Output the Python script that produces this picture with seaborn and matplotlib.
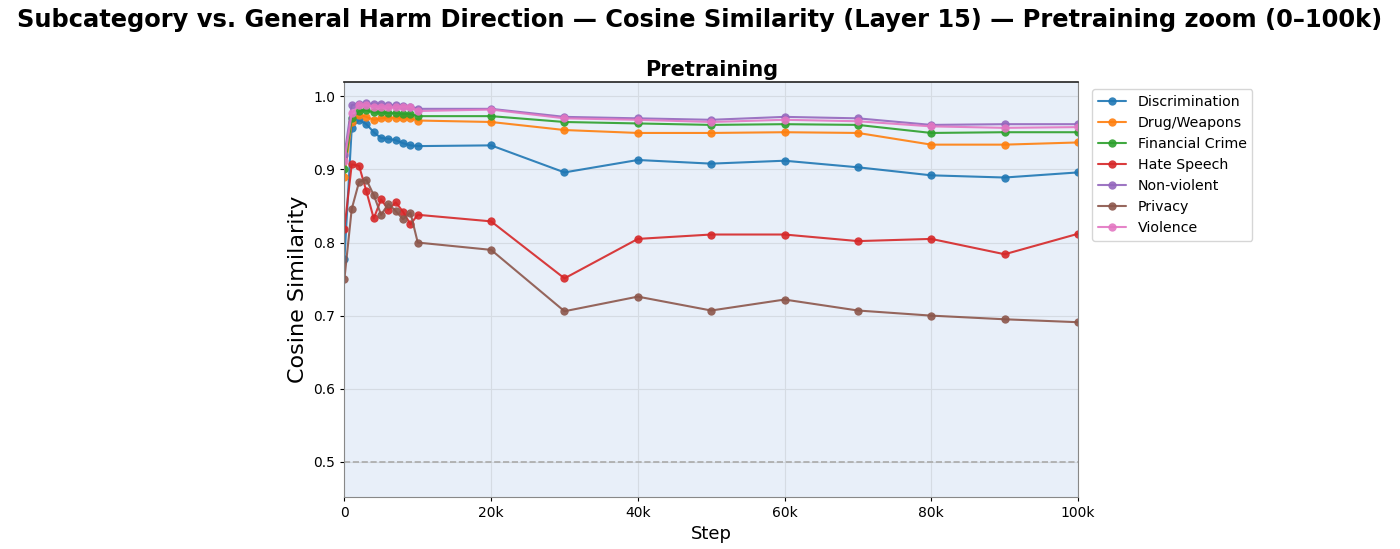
import numpy as np
import pandas as pd
import matplotlib
matplotlib.use("Agg")
import matplotlib.pyplot as plt
import seaborn as sns
from matplotlib.ticker import FuncFormatter

steps = [0, 1000, 2000, 3000, 4000, 5000, 6000, 7000, 8000, 9000, 10000,
         20000, 30000, 40000, 50000, 60000, 70000, 80000, 90000, 100000]

discrimination = [0.777, 0.957, 0.968, 0.962, 0.951, 0.943, 0.942, 0.940, 0.936, 0.933, 0.932,
                  0.933, 0.896, 0.913, 0.908, 0.912, 0.903, 0.892, 0.889, 0.896]
drug_weapons = [0.89, 0.965, 0.975, 0.972, 0.968, 0.970, 0.971, 0.971, 0.970, 0.970, 0.967,
                0.965, 0.954, 0.950, 0.950, 0.951, 0.950, 0.934, 0.934, 0.937]
financial_crime = [0.901, 0.970, 0.980, 0.981, 0.978, 0.978, 0.977, 0.977, 0.976, 0.976, 0.973,
                   0.973, 0.965, 0.963, 0.961, 0.962, 0.961, 0.950, 0.951, 0.951]
hate_speech = [0.819, 0.907, 0.905, 0.870, 0.833, 0.859, 0.845, 0.855, 0.842, 0.825, 0.838,
               0.829, 0.751, 0.805, 0.811, 0.811, 0.802, 0.805, 0.784, 0.812]
non_violent = [0.92, 0.988, 0.990, 0.991, 0.989, 0.989, 0.988, 0.988, 0.987, 0.986, 0.983,
               0.983, 0.972, 0.970, 0.968, 0.972, 0.970, 0.961, 0.962, 0.962]
privacy = [0.750, 0.846, 0.883, 0.886, 0.865, 0.838, 0.853, 0.843, 0.832, 0.841, 0.800,
           0.790, 0.706, 0.726, 0.707, 0.722, 0.707, 0.700, 0.695, 0.691]
violence = [0.911, 0.977, 0.988, 0.988, 0.986, 0.985, 0.985, 0.985, 0.986, 0.986, 0.980,
            0.982, 0.970, 0.968, 0.965, 0.968, 0.966, 0.959, 0.957, 0.958]

categories = ["Discrimination", "Drug/Weapons", "Financial Crime", "Hate Speech",
              "Non-violent", "Privacy", "Violence"]
series = [discrimination, drug_weapons, financial_crime, hate_speech,
          non_violent, privacy, violence]

rows = []
for cat, vals in zip(categories, series):
    for s, v in zip(steps, vals):
        rows.append({"step": s, "cos": v, "category": cat})
df = pd.DataFrame(rows)

sns.set_style("whitegrid")
plt.rcParams["font.family"] = ["DejaVu Sans"]
plt.rcParams["text.color"] = "black"
plt.rcParams["axes.labelcolor"] = "black"
plt.rcParams["xtick.color"] = "black"
plt.rcParams["ytick.color"] = "black"

fig = plt.figure(figsize=(14, 5.49), dpi=100)
ax = fig.add_axes([0.246, 0.095, 0.524, 0.756])
ax.set_facecolor("#e8eff9")

sns.lineplot(data=df, x="step", y="cos", hue="category", hue_order=categories,
             palette="tab10", marker="o", markersize=6, markeredgewidth=0,
             linewidth=1.5, alpha=0.9, ax=ax)

ax.axhline(0.5, color="#aaaaaa", linestyle="--", linewidth=1.2)

ax.set_xlim(0, 100000)
ax.set_ylim(0.452, 1.02)
ax.set_xticks([0, 20000, 40000, 60000, 80000, 100000])
ax.xaxis.set_major_formatter(FuncFormatter(lambda v, p: "0" if v == 0 else f"{int(v/1000)}k"))
ax.set_yticks([0.5, 0.6, 0.7, 0.8, 0.9, 1.0])
ax.tick_params(axis="both", labelsize=10, length=3, left=True, bottom=True)
ax.grid(True, color="#d5dbe3", linewidth=0.8)

for side in ["left", "right", "bottom"]:
    ax.spines[side].set_color("#888888")
ax.spines["top"].set_color("#222222")
ax.spines["top"].set_linewidth(1.2)

ax.set_xlabel("Step", fontsize=13)
ax.set_ylabel("Cosine Similarity", fontsize=16)
ax.set_title("Pretraining", fontsize=15, fontweight="bold", pad=4)

ax.legend(loc="upper left", bbox_to_anchor=(1.01, 1.0), fontsize=10.2, frameon=True)

fig.suptitle("Subcategory vs. General Harm Direction \u2014 Cosine Similarity (Layer 15) \u2014 Pretraining zoom (0\u2013100k)",
             fontsize=17.4, fontweight="bold", y=0.985)

fig.savefig("out.png", dpi=100)
